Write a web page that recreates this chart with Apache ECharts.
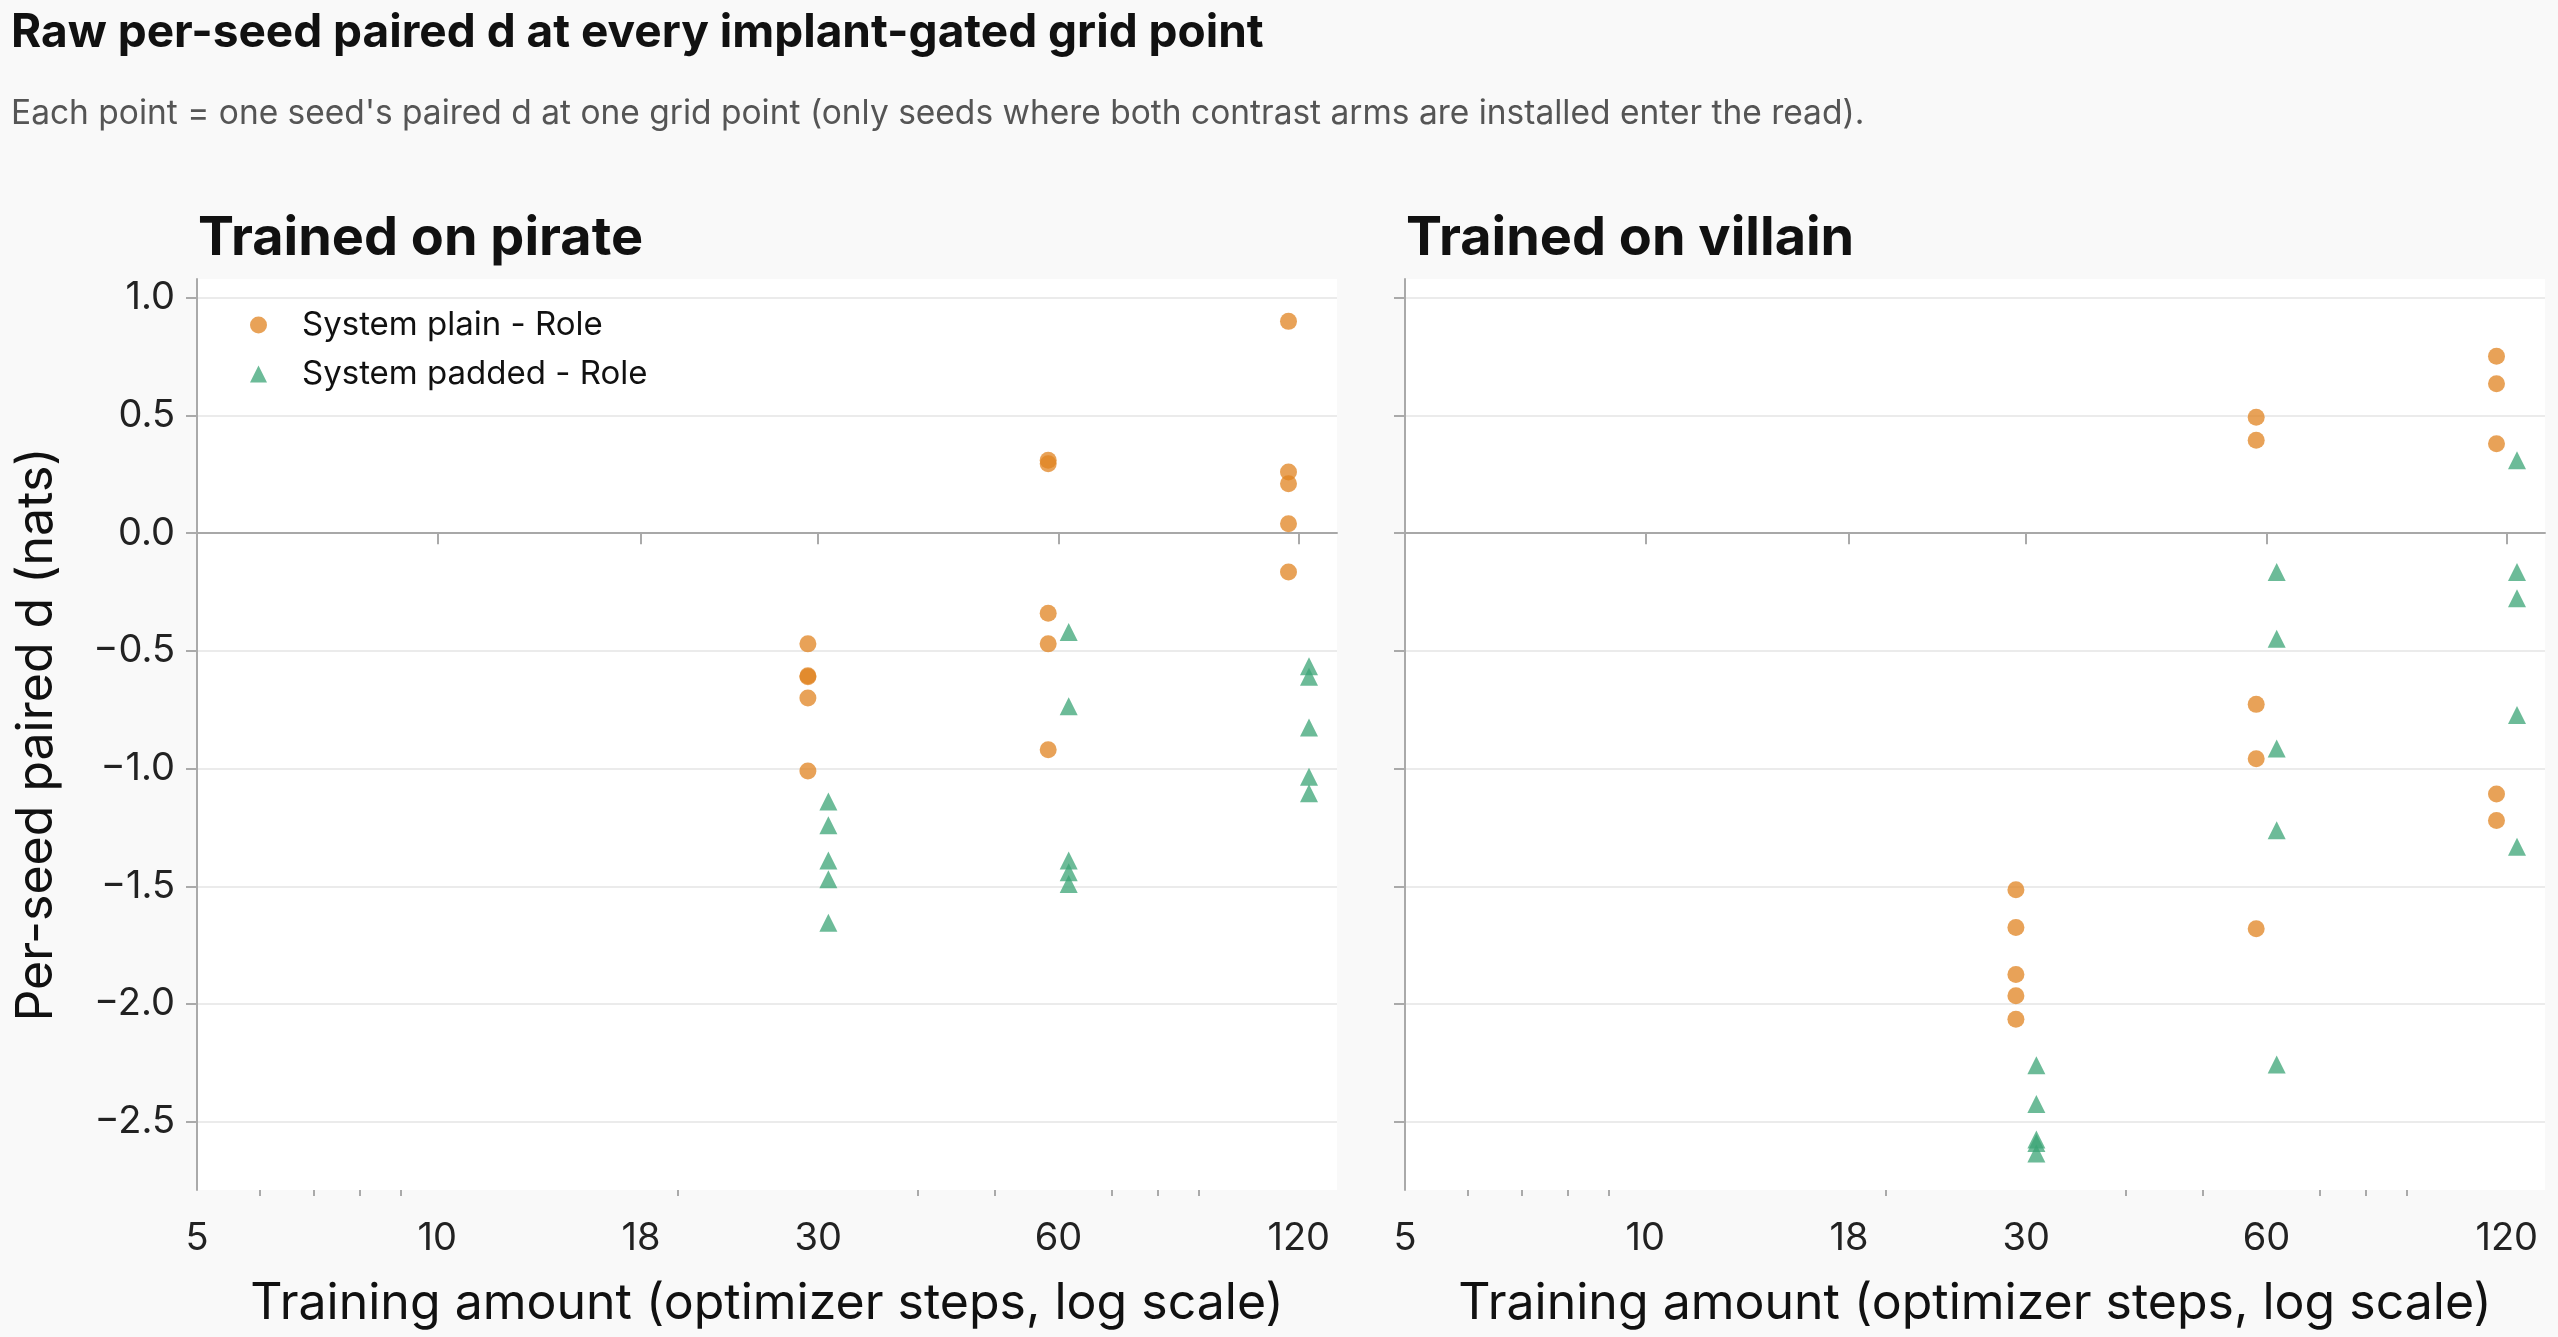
<!DOCTYPE html>
<html>
<head>
    <meta charset="utf-8">
    <title>Raw per-seed paired d</title>
    <script src="https://cdn.jsdelivr.net/npm/echarts@6.0.0/dist/echarts.min.js"></script>
    <style>
        html, body { margin: 0; padding: 0; background: #f9f9f9; }
    </style>
</head>
<body>
    <div id="main" style="width: 2558px;height:1337px;"></div>
    <script type="text/javascript">
    // grid points (optimizer steps) and axis ticks
    var steps = [30, 60, 120];
    var xTicks = [5, 10, 18, 30, 60, 120];
    var xMinor = [6, 7, 8, 9, 20, 40, 50, 70, 80, 90];
    var yTicks = [-2.5, -2, -1.5, -1, -0.5, 0, 0.5, 1];
    var dodge = 1.03;   // plain drawn a bit left, padded a bit right

    // per-seed paired d, one row per grid point (30, 60, 120)
    var piratePlain = [
        [-0.47, -0.605, -0.61, -0.70, -1.01],
        [0.31, 0.295, -0.34, -0.47, -0.92],
        [0.90, 0.26, 0.21, 0.04, -0.165]
    ];
    var piratePadded = [
        [-1.14, -1.24, -1.39, -1.47, -1.655],
        [-0.42, -0.735, -1.39, -1.44, -1.49],
        [-0.565, -0.61, -0.825, -1.035, -1.105]
    ];
    var villainPlain = [
        [-1.515, -1.675, -1.875, -1.965, -2.065],
        [0.493, 0.395, -0.727, -0.958, -1.68],
        [0.752, 0.635, 0.38, -1.108, -1.22]
    ];
    var villainPadded = [
        [-2.26, -2.425, -2.575, -2.59, -2.635],
        [-0.165, -0.448, -0.915, -1.262, -2.257],
        [0.31, -0.165, -0.276, -0.772, -1.332]
    ];

    var PLAIN = 'System plain - Role';
    var PADDED = 'System padded - Role';
    var ORANGE = '#e08320';
    var GREEN = '#3ba476';
    var FONT = 'Inter';

    // x is drawn on a log10 value axis
    function points(rows, factor) {
        var out = [];
        for (var i = 0; i < steps.length; i++) {
            for (var j = 0; j < rows[i].length; j++) {
                out.push([Math.log10(steps[i] * factor), rows[i][j]]);
            }
        }
        return out;
    }
    var lg = function (v) { return Math.log10(v); };

    var grids = [
        { left: 197, top: 279, width: 1140, height: 911 },
        { left: 1405, top: 279, width: 1140, height: 911 }
    ];

    function mainX(gi) {
        return {
            type: 'value', gridIndex: gi,
            min: lg(5), max: lg(134),
            name: 'Training amount (optimizer steps, log scale)',
            nameLocation: 'middle', nameGap: 89,
            nameTextStyle: { fontFamily: FONT, fontSize: 50, color: '#111' },
            axisLine: { show: true, lineStyle: { color: '#aaaaaa', width: 2 } },
            axisTick: { show: true, length: 11, customValues: xTicks.map(lg),
                        lineStyle: { color: '#aaaaaa', width: 2 } },
            axisLabel: { customValues: xTicks.map(lg), margin: 30,
                         fontFamily: FONT, fontSize: 38, color: '#222',
                         formatter: function (v) { return String(Math.round(Math.pow(10, v))); } },
            splitLine: { show: false }
        };
    }
    function minorX(gi) {
        return {
            type: 'value', gridIndex: gi, position: 'bottom',
            min: lg(5), max: lg(134),
            axisLine: { show: false },
            axisTick: { show: true, length: 6, customValues: xMinor.map(lg),
                        lineStyle: { color: '#aaaaaa', width: 2 } },
            axisLabel: { show: false, customValues: xMinor.map(lg) },
            splitLine: { show: false }
        };
    }
    function yAx(gi, withLabels) {
        return {
            type: 'value', gridIndex: gi,
            min: -2.79, max: 1.08,
            name: withLabels ? 'Per-seed paired d (nats)' : '',
            nameLocation: 'middle', nameGap: 135,
            nameTextStyle: { fontFamily: FONT, fontSize: 50, color: '#111' },
            axisLine: { show: true, lineStyle: { color: '#aaaaaa', width: 2 } },
            axisTick: { show: true, length: 11, customValues: yTicks,
                        lineStyle: { color: '#aaaaaa', width: 2 } },
            axisLabel: { show: withLabels, customValues: yTicks, margin: 22,
                         fontFamily: FONT, fontSize: 38, color: '#222',
                         formatter: function (v) { return v.toFixed(1).replace('-', '\u2212'); } },
            splitLine: { show: true, lineStyle: { color: '#ebebeb', width: 2 } }
        };
    }

    function scatter(name, data, xi, yi, color, symbol, size, zero) {
        var s = {
            type: 'scatter', name: name, data: data,
            xAxisIndex: xi, yAxisIndex: yi,
            symbol: symbol, symbolSize: size,
            itemStyle: { color: color, opacity: 0.75 },
            emphasis: { disabled: true },
            z: 3
        };
        if (zero) {
            s.markLine = {
                silent: true, symbol: 'none', label: { show: false },
                lineStyle: { color: '#a8a8a8', width: 2, type: 'solid' },
                data: [{ yAxis: 0 }],
                z: 1
            };
        }
        return s;
    }

    var myChart = echarts.init(document.getElementById('main'));
    var option = {
        backgroundColor: '#f9f9f9',
        animation: false,
        title: [
            { text: 'Raw per-seed paired d at every implant-gated grid point', left: 6, top: 5,
              textStyle: { fontFamily: FONT, fontSize: 46, fontWeight: 'bold', color: '#111' } },
            { text: "Each point = one seed's paired d at one grid point (only seeds where both contrast arms are installed enter the read).",
              left: 6, top: 92,
              textStyle: { fontFamily: FONT, fontSize: 33.5, fontWeight: 'normal', color: '#555' } },
            { text: 'Trained on pirate', left: 193, top: 207,
              textStyle: { fontFamily: FONT, fontSize: 54, fontWeight: 'bold', color: '#111' } },
            { text: 'Trained on villain', left: 1401, top: 207,
              textStyle: { fontFamily: FONT, fontSize: 54, fontWeight: 'bold', color: '#111' } }
        ],
        legend: {
            orient: 'vertical', left: 245, top: 303,
            itemWidth: 17, itemHeight: 17, itemGap: 15,
            textStyle: { fontFamily: FONT, fontSize: 33, color: '#111', lineHeight: 34,
                         padding: [0, 0, 0, 30] },
            data: [
                { name: PLAIN, icon: 'circle', itemStyle: { color: ORANGE, opacity: 0.75 } },
                { name: PADDED, icon: 'triangle', itemStyle: { color: GREEN, opacity: 0.75 } }
            ]
        },
        grid: grids.map(function (g) {
            return { left: g.left, top: g.top, width: g.width, height: g.height,
                     show: true, backgroundColor: '#ffffff', borderWidth: 0 };
        }),
        xAxis: [mainX(0), minorX(0), mainX(1), minorX(1)],
        yAxis: [yAx(0, true), yAx(1, false)],
        series: [
            scatter(PLAIN, points(piratePlain, 1 / dodge), 0, 0, ORANGE, 'circle', 17, true),
            scatter(PADDED, points(piratePadded, dodge), 0, 0, GREEN, 'triangle', 18, false),
            scatter(PLAIN, points(villainPlain, 1 / dodge), 2, 1, ORANGE, 'circle', 17, true),
            scatter(PADDED, points(villainPadded, dodge), 2, 1, GREEN, 'triangle', 18, false)
        ]
    };
    myChart.setOption(option);
    </script>
</body>
</html>
